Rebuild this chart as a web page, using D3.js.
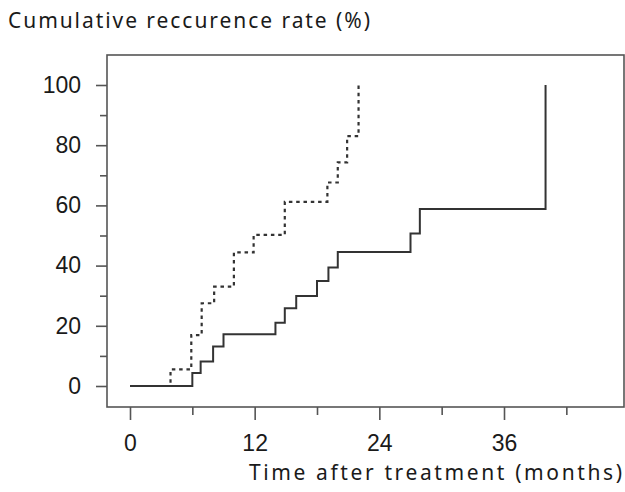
<!DOCTYPE html>
<html><head><meta charset="utf-8">
<script src="https://cdn.jsdelivr.net/npm/d3@7"></script>
<style>html,body{margin:0;padding:0;background:#fff;}svg{display:block;}</style>
</head><body>
<script>
// Data
const solidTimes = [0, 6, 6.8, 8, 9, 14, 14.9, 16, 18, 19.1, 20, 27, 27.9, 40];
const solidRates = [0, 4.3, 8.1, 13.1, 17.2, 21, 25.8, 29.9, 34.9, 39.4, 44.5, 50.7, 58.8, 100];
const dashedTimes = [0, 3.9, 5.9, 6.9, 8.1, 10, 11.9, 14.9, 19, 20, 20.9, 22];
const dashedRates = [0, 5.5, 16.9, 27.5, 33, 44.4, 50.2, 61.2, 67.6, 74.3, 83, 100];
const xMajorTicks = [0, 12, 24, 36];
const xMinorTicks = [6, 18, 30, 42];
const yMajorTicks = [0, 20, 40, 60, 80, 100];
const yMinorTicks = [10, 30, 50, 70, 90];
const yTitle = "Cumulative reccurence rate  (%)";
const xTitle = "Time after treatment  (months)";

const W = 625, H = 492;
const frame = {left: 107, top: 55, right: 624, bottom: 407};
const svg = d3.select("body").append("svg").attr("width", W).attr("height", H);

const x = d3.scaleLinear().domain([0, 36]).range([130, 504]);
const y = d3.scaleLinear().domain([0, 100]).range([386, 85]);

const axisColor = "#555";
const numFont = "'Liberation Sans', Arial, sans-serif";

// Frame
svg.append("rect")
  .attr("x", frame.left).attr("y", frame.top)
  .attr("width", frame.right - frame.left).attr("height", frame.bottom - frame.top)
  .attr("fill", "none").attr("stroke", axisColor).attr("stroke-width", 1.6);

function styleAxis(g) {
  g.select(".domain").remove();
  g.selectAll(".tick line").attr("stroke", axisColor).attr("stroke-width", 1.6);
  g.selectAll(".tick text").attr("fill", "#1a1a1a").style("font-family", numFont).style("font-size", "23px");
}

svg.append("g").attr("transform", `translate(${frame.left},0)`)
  .call(d3.axisLeft(y).tickValues(yMajorTicks).tickSize(11).tickPadding(15).tickFormat(d3.format("d")))
  .call(styleAxis);
svg.append("g").attr("transform", `translate(${frame.left},0)`)
  .call(d3.axisLeft(y).tickValues(yMinorTicks).tickSize(7).tickFormat(""))
  .call(styleAxis);
svg.append("g").attr("transform", `translate(0,${frame.bottom})`)
  .call(d3.axisBottom(x).tickValues(xMajorTicks).tickSize(13).tickPadding(15).tickFormat(d3.format("d")))
  .call(styleAxis);
svg.append("g").attr("transform", `translate(0,${frame.bottom})`)
  .call(d3.axisBottom(x).tickValues(xMinorTicks).tickSize(8).tickFormat(""))
  .call(styleAxis);

const line = d3.line().x(d => x(d[0])).y(d => y(d[1])).curve(d3.curveStepAfter);

svg.append("path")
  .datum(dashedTimes.map((t, i) => [t, dashedRates[i]]))
  .attr("d", line).attr("fill", "none")
  .attr("stroke", "#333").attr("stroke-width", 2.2).attr("stroke-dasharray", "3.5,3.8");

svg.append("path")
  .datum(solidTimes.map((t, i) => [t, solidRates[i]]))
  .attr("d", line).attr("fill", "none")
  .attr("stroke", "#333").attr("stroke-width", 2);

const titleFont = "'Noto Sans', sans-serif";
svg.append("text").attr("x", 8).attr("y", 28)
  .attr("textLength", 362).attr("lengthAdjust", "spacing")
  .style("font-family", titleFont).style("font-size", "21px").attr("fill", "#1a1a1a")
  .text(yTitle);
svg.append("text").attr("x", 249).attr("y", 480)
  .attr("textLength", 373).attr("lengthAdjust", "spacing")
  .style("font-family", titleFont).style("font-size", "21px").attr("fill", "#1a1a1a")
  .text(xTitle);
</script>
</body></html>
